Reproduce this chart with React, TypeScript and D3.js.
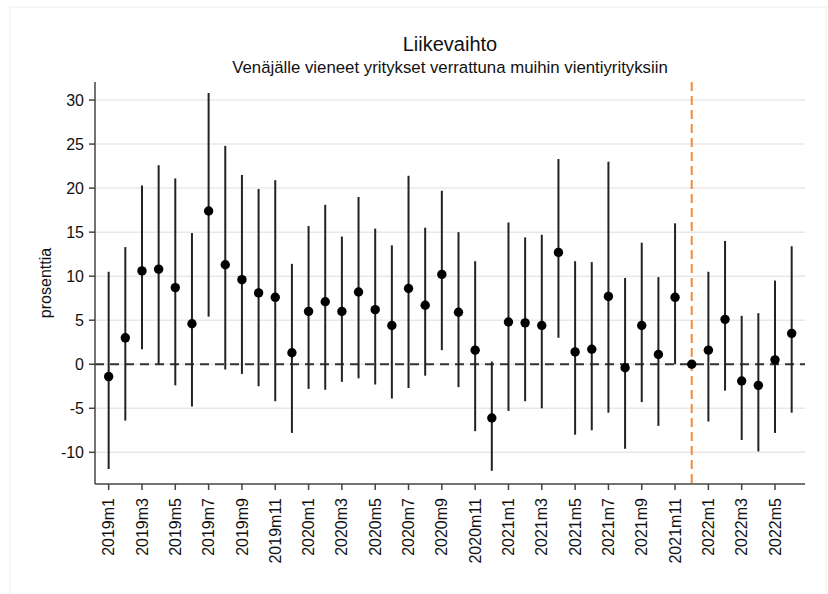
import React from "react";
import * as d3 from "d3";

const months = [
  "2019m1","2019m2","2019m3","2019m4","2019m5","2019m6","2019m7","2019m8","2019m9","2019m10","2019m11","2019m12",
  "2020m1","2020m2","2020m3","2020m4","2020m5","2020m6","2020m7","2020m8","2020m9","2020m10","2020m11","2020m12",
  "2021m1","2021m2","2021m3","2021m4","2021m5","2021m6","2021m7","2021m8","2021m9","2021m10","2021m11","2021m12",
  "2022m1","2022m2","2022m3","2022m4","2022m5","2022m6",
];
const estimate = [
  -1.4, 3.0, 10.6, 10.8, 8.7, 4.6, 17.4, 11.3, 9.6, 8.1, 7.6, 1.3,
  6.0, 7.1, 6.0, 8.2, 6.2, 4.4, 8.6, 6.7, 10.2, 5.9, 1.6, -6.1,
  4.8, 4.7, 4.4, 12.7, 1.4, 1.7, 7.7, -0.4, 4.4, 1.1, 7.6, 0,
  1.6, 5.1, -1.9, -2.4, 0.5, 3.5,
];
const ciUpper = [
  10.5, 13.3, 20.3, 22.6, 21.1, 14.9, 30.8, 24.8, 21.5, 19.9, 20.9, 11.4,
  15.7, 18.1, 14.5, 19.0, 15.4, 13.5, 21.4, 15.5, 19.7, 15.0, 11.7, 0.3,
  16.1, 14.4, 14.7, 23.3, 11.7, 11.6, 23.0, 9.8, 13.8, 9.9, 16.0, 0,
  10.5, 14.0, 5.5, 5.8, 9.5, 13.4,
];
const ciLower = [
  -11.9, -6.4, 1.7, 0.0, -2.4, -4.8, 5.4, -0.6, -1.1, -2.5, -4.2, -7.8,
  -2.8, -2.9, -2.0, -1.6, -2.3, -3.9, -2.7, -1.3, 1.6, -2.6, -7.6, -12.1,
  -5.3, -4.2, -5.0, 3.0, -8.0, -7.5, -5.5, -9.6, -4.3, -7.0, 0.0, 0,
  -6.5, -3.0, -8.6, -9.9, -7.8, -5.5,
];
const yTicks = [-10, -5, 0, 5, 10, 15, 20, 25, 30];
const referenceMonth = "2021m12";
const titleText = "Liikevaihto";
const subtitleText = "Venäjälle vieneet yritykset verrattuna muihin vientiyrityksiin";
const yAxisTitle = "prosenttia";

const W = 828;
const H = 594;
const left = 95;
const right = 805;
const top = 82;
const bottom = 484;

export default function App() {
  const x = d3.scaleLinear().domain([-0.82, 41.8]).range([left, right]);
  const y = d3.scaleLinear().domain([-13.6, 32.05]).range([bottom, top]);
  const font = "Arial, 'Liberation Sans', sans-serif";
  const refIdx = months.indexOf(referenceMonth);
  const labeled = months.map((m, i) => ({ m, i })).filter((d) => d.i % 2 === 0);

  return (
    <svg
      width={W}
      height={H}
      style={{ position: "absolute", left: 0, top: 0, background: "#fff" }}
      fontFamily={font}
    >
      <rect x={10} y={7} width={816} height={590} fill="#fff" stroke="#f3f3f3" strokeWidth={1.5} />
      {/* gridlines */}
      {yTicks.map((t) => (
        <line key={"g" + t} x1={left} x2={right} y1={y(t)} y2={y(t)} stroke="#e8e8e8" strokeWidth={1.5} />
      ))}
      {/* zero line */}
      <line x1={left} x2={right} y1={y(0)} y2={y(0)} stroke="#333" strokeWidth={2} strokeDasharray="9,6" />
      {/* reference line */}
      <line
        x1={x(refIdx)}
        x2={x(refIdx)}
        y1={top}
        y2={bottom}
        stroke="#f28c3c"
        strokeWidth={2}
        strokeDasharray="9,5"
      />
      {/* CIs */}
      {months.map((m, i) =>
        ciUpper[i] !== ciLower[i] ? (
          <line key={"ci" + m} x1={x(i)} x2={x(i)} y1={y(ciUpper[i])} y2={y(ciLower[i])} stroke="#222" strokeWidth={2} />
        ) : null
      )}
      {/* points */}
      {months.map((m, i) => (
        <circle key={"p" + m} cx={x(i)} cy={y(estimate[i])} r={4.7} fill="#000" />
      ))}
      {/* axes */}
      <line x1={left} x2={left} y1={top} y2={bottom} stroke="#444" strokeWidth={1.5} />
      <line x1={left} x2={right} y1={bottom} y2={bottom} stroke="#444" strokeWidth={1.5} />
      {yTicks.map((t) => (
        <g key={"yt" + t}>
          <line x1={left - 6} x2={left} y1={y(t)} y2={y(t)} stroke="#444" strokeWidth={1.5} />
          <text x={left - 11} y={y(t)} dy="0.35em" textAnchor="end" fontSize={16} fill="#111">
            {t}
          </text>
        </g>
      ))}
      {labeled.map(({ m, i }) => (
        <g key={"xt" + m}>
          <line x1={x(i)} x2={x(i)} y1={bottom} y2={bottom + 6} stroke="#444" strokeWidth={1.5} />
          <text
            transform={`translate(${x(i)},${bottom + 14}) rotate(-90)`}
            dy="0.35em"
            textAnchor="end"
            fontSize={16}
            fill="#111"
          >
            {m}
          </text>
        </g>
      ))}
      <text
        transform={`translate(45,${(top + bottom) / 2}) rotate(-90)`}
        textAnchor="middle"
        dy="0.35em"
        fontSize={16}
        fill="#111"
      >
        {yAxisTitle}
      </text>
      <text x={450} y={51} textAnchor="middle" fontSize={20} fill="#111">
        {titleText}
      </text>
      <text x={450} y={73} textAnchor="middle" fontSize={16.8} fill="#111">
        {subtitleText}
      </text>
    </svg>
  );
}
